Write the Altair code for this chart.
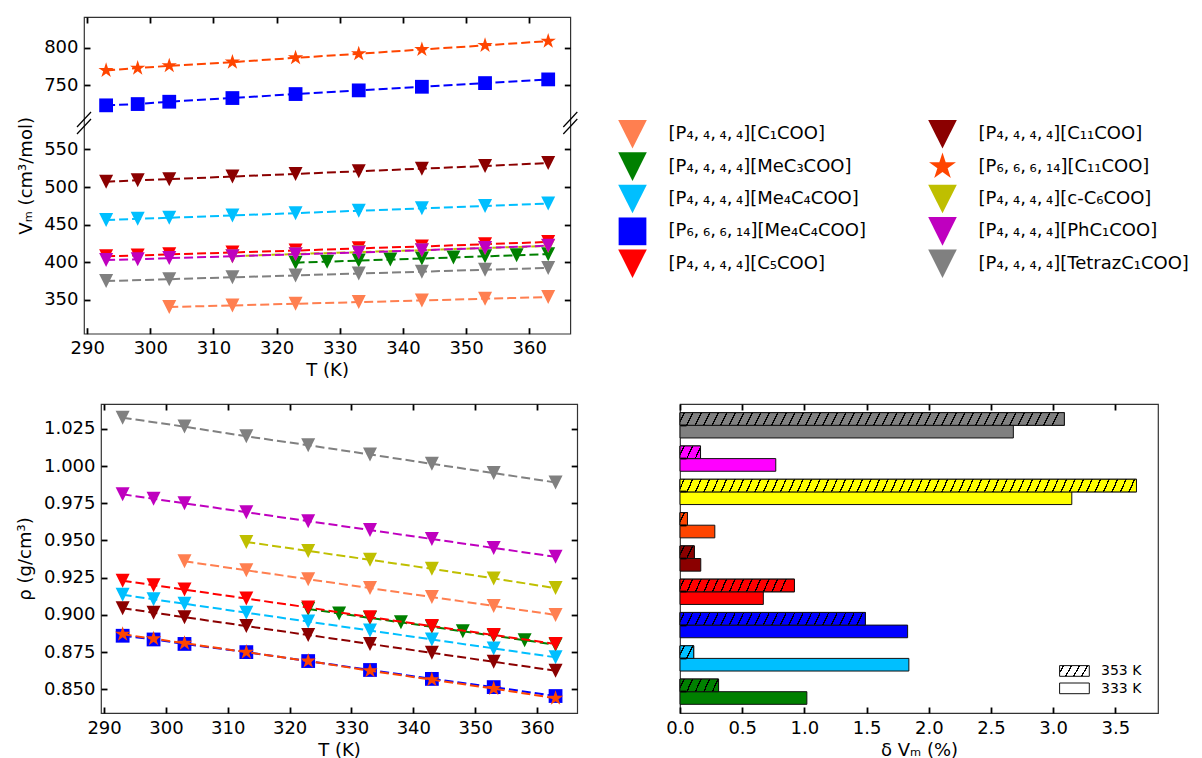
import math
import altair as alt
import pandas as pd

FONT = "DejaVu Sans"

# ---------------- data ----------------
T_FULL = [293, 298, 303, 313, 323, 333, 343, 353, 363]
T_C1 = [303, 313, 323, 333, 343, 353, 363]
T_MEC3 = [323, 328, 333, 338, 343, 348, 353, 358, 363]
T_CC6 = [313, 323, 333, 343, 353, 363]
T_TETRAZ = [293, 303, 313, 323, 333, 343, 353, 363]

KEYS = ["C1", "MeC3", "Me4C4", "P6Me4C4", "C5", "C11", "P6C11", "cC6", "PhC1", "Tetraz"]
P4 = "P₄,\u2009₄,\u2009₄,\u2009₄"
P6 = "P₆,\u2009₆,\u2009₆,\u2009₁₄"
NAMES = [
    f"[{P4}][C₁COO]",
    f"[{P4}][MeC₃COO]",
    f"[{P4}][Me₄C₄COO]",
    f"[{P6}][Me₄C₄COO]",
    f"[{P4}][C₅COO]",
    f"[{P4}][C₁₁COO]",
    f"[{P6}][C₁₁COO]",
    f"[{P4}][c-C₆COO]",
    f"[{P4}][PhC₁COO]",
    f"[{P4}][TetrazC₁COO]",
]
COLORS = ["#FF7F50", "#008000", "#00BFFF", "#0000FF", "#FF0000",
          "#8B0000", "#FF4500", "#BFBF00", "#BF00BF", "#808080"]
MARKERS = ["tri", "tri", "tri", "square", "tri", "tri", "star", "tri", "tri", "tri"]
TEMPS = [T_C1, T_MEC3, T_FULL, T_FULL, T_FULL, T_FULL, T_FULL, T_CC6, T_FULL, T_TETRAZ]

# molar volume (cm3/mol)
VM = [
    [340.5, 342.6, 344.8, 347.0, 349.2, 351.5, 353.8],
    [399.5, 400.8, 402.2, 403.6, 405.0, 406.4, 407.9, 409.3, 410.8],
    [456.2, 457.7, 459.2, 462.2, 465.3, 468.5, 471.7, 474.9, 478.1],
    [723.5, 725.2, 728.3, 733.2, 738.5, 743.4, 748.2, 753.1, 758.0],
    [408.0, 409.0, 410.5, 413.0, 415.5, 418.5, 421.0, 424.0, 427.0],
    [507.0, 509.0, 510.5, 514.0, 517.5, 521.0, 524.5, 528.0, 532.0],
    [770.0, 773.0, 776.1, 781.0, 786.7, 792.0, 797.8, 803.2, 808.9],
    [408.0, 411.0, 413.5, 416.0, 419.0, 421.5],
    [403.0, 404.0, 405.5, 408.0, 410.5, 413.0, 416.0, 419.0, 422.0],
    [375.0, 377.5, 380.0, 382.5, 385.0, 387.5, 390.0, 392.5],
]
# density (g/cm3)
RHO = [
    [0.936, 0.930, 0.924, 0.918, 0.912, 0.906, 0.900],
    [0.904, 0.901, 0.898, 0.895, 0.892, 0.889, 0.886, 0.883, 0.880],
    [0.9135, 0.9105, 0.9075, 0.9015, 0.8955, 0.8895, 0.8835, 0.8775, 0.8715],
    [0.886, 0.8835, 0.8805, 0.875, 0.869, 0.863, 0.857, 0.8515, 0.8455],
    [0.923, 0.920, 0.917, 0.911, 0.905, 0.8985, 0.8925, 0.8865, 0.8805],
    [0.9045, 0.9015, 0.8985, 0.8925, 0.8865, 0.8805, 0.8745, 0.8685, 0.8625],
    [0.887, 0.884, 0.881, 0.875, 0.869, 0.8625, 0.8565, 0.8505, 0.844],
    [0.949, 0.943, 0.937, 0.931, 0.9245, 0.918],
    [0.981, 0.978, 0.975, 0.969, 0.963, 0.957, 0.951, 0.945, 0.939],
    [1.0325, 1.0265, 1.020, 1.014, 1.0078, 1.0015, 0.9953, 0.989],
]

# deviation bars, listed bottom -> top
BAR_KEYS = ["MeC3", "Me4C4", "P6Me4C4", "C5", "C11", "P6C11", "cC6", "PhC1", "Tetraz"]
BAR_COLORS = ["#008000", "#00BFFF", "#0000FF", "#FF0000", "#8B0000",
              "#FF4500", "#FFFF00", "#FF00FF", "#808080"]
DV_353 = [0.31, 0.11, 1.49, 0.92, 0.115, 0.06, 3.67, 0.165, 3.09]
DV_333 = [1.02, 1.84, 1.83, 0.67, 0.167, 0.28, 3.15, 0.77, 2.68]
TEMP_LABELS = ["353 K", "333 K"]

X_TICKS = [290, 300, 310, 320, 330, 340, 350, 360]
VM_TICKS = [350, 400, 450, 500, 550, 750, 800]
RHO_TICKS = [0.850, 0.875, 0.900, 0.925, 0.950, 0.975, 1.000, 1.025]
DV_TICKS = [0.0, 0.5, 1.0, 1.5, 2.0, 2.5, 3.0, 3.5]

# ---------------- styles ----------------
TS = 6
TRI = "M-1,-1L1,-1L0,1Z"


def star_path():
    pts = []
    for i in range(10):
        r = 1.0 if i % 2 == 0 else 0.382
        a = math.radians(-90 + 36 * i)
        pts.append((r * math.cos(a), r * math.sin(a)))
    return "M" + "L".join(f"{x:.3f},{y:.3f}" for x, y in pts) + "Z"


STAR = star_path()
SHAPE = {"tri": TRI, "square": "square", "star": STAR}
PT_SIZE = {"tri": 196, "square": 190, "star": 260}
LEG_SIZE = {"tri": 820, "square": 770, "star": 800}


def ax(orient, values=None, labels=True, fmt=None, title=None, title_pad=6):
    d = dict(orient=orient, labels=labels, ticks=True, tickSize=TS, offset=-TS,
             domain=False, grid=False, tickColor="black", tickWidth=1.8,
             labelFont=FONT, labelFontSize=18, labelColor="black", labelPadding=6,
             labelFlush=False, labelOverlap=False, zindex=1,
             titleFont=FONT, titleFontSize=18, titleFontWeight="normal",
             titleColor="black", titlePadding=title_pad)
    if values is not None:
        d["values"] = values
    if fmt is not None:
        d["format"] = fmt
    d["title"] = title
    return alt.Axis(**d)


def series_df(i, vals, col):
    return pd.DataFrame({"T": TEMPS[i], col: vals[i]})


def scatter_layers(vals, col, ysc, yticks, yfmt, ytitle, ytitle_pad):
    xsc = alt.Scale(domain=[289.5, 366.5], nice=False, zero=False)
    layers = []
    for i in range(len(KEYS)):
        d = series_df(i, vals, col)
        enc = dict(x=alt.X("T:Q", scale=xsc, axis=None),
                   y=alt.Y(f"{col}:Q", scale=ysc, axis=None))
        layers.append(alt.Chart(d).mark_line(color=COLORS[i], strokeDash=[9, 4],
                                             strokeWidth=2).encode(**enc))
        layers.append(alt.Chart(d).mark_point(shape=SHAPE[MARKERS[i]], filled=True,
                                              opacity=1, color=COLORS[i],
                                              size=PT_SIZE[MARKERS[i]]).encode(**enc))
    alldf = pd.concat([series_df(i, vals, col) for i in range(len(KEYS))])
    a1 = alt.Chart(alldf).mark_point(opacity=0).encode(
        x=alt.X("T:Q", scale=xsc, axis=ax("bottom", X_TICKS, title="T (K)", title_pad=4)),
        y=alt.Y(f"{col}:Q", scale=ysc,
                axis=ax("left", yticks, fmt=yfmt, title=ytitle, title_pad=ytitle_pad)))
    a2 = alt.Chart(alldf).mark_point(opacity=0).encode(
        x=alt.X("T:Q", scale=xsc, axis=ax("top", X_TICKS, labels=False)),
        y=alt.Y(f"{col}:Q", scale=ysc, axis=ax("right", yticks, labels=False)))
    return layers + [a1, a2]


one = pd.DataFrame({"a": [0]})

# ---------------- top-left: molar volume (broken axis) ----------------
TL_W, TL_H = 486.3, 316.7
vm_scale = alt.Scale(domain=[305, 580, 704, 841], range=[TL_H, 109.9, 103, 0],
                     nice=False, zero=False)
tl_layers = scatter_layers(VM, "V", vm_scale, VM_TICKS, "d", "Vₘ (cm³/mol)", 8.5)
breaks = []
for sx in [0, TL_W]:
    for (ya, yb) in [(110, 95), (117, 102)]:
        breaks.append(alt.Chart(one).mark_rule(color="black", strokeWidth=1.2).encode(
            x=alt.value(sx - 7), x2=alt.value(sx + 7),
            y=alt.value(ya), y2=alt.value(yb)))
tl = alt.layer(*tl_layers, *breaks).resolve_axis(x="independent", y="independent") \
    .properties(width=TL_W, height=TL_H)

# ---------------- legend ----------------
leg_df = pd.DataFrame({
    "name": NAMES,
    "col": [i // 5 for i in range(10)],
    "row": [i % 5 for i in range(10)],
    "color": COLORS,
    "shape": [SHAPE[m] for m in MARKERS],
    "size": [LEG_SIZE[m] for m in MARKERS],
})
lx = alt.X("col:Q", scale=alt.Scale(domain=[0, 1], range=[53.5, 363.5]), axis=None)
ly = alt.Y("row:Q", scale=alt.Scale(domain=[0, 4], range=[117.3, 246.7]), axis=None)
leg_pts = alt.Chart(leg_df).mark_point(filled=True, opacity=1).encode(
    x=lx, y=ly,
    color=alt.Color("color:N", scale=None),
    shape=alt.Shape("shape:N", scale=None),
    size=alt.Size("size:Q", scale=None))
leg_txt = alt.Chart(leg_df).mark_text(align="left", baseline="middle", dx=36,
                                      fontSize=18, font=FONT, color="black").encode(
    x=lx, y=ly, text="name:N")
leg = alt.layer(leg_pts, leg_txt).properties(
    width=610, height=TL_H, view=alt.ViewBackground(strokeOpacity=0))

# ---------------- bottom-left: density ----------------
BL_W, BL_H = 476.2, 309.0
rho_scale = alt.Scale(domain=[0.8341, 1.0417], nice=False, zero=False)
bl_layers = scatter_layers(RHO, "rho", rho_scale, RHO_TICKS, ".3f", "ρ (g/cm³)", 8.5)
bl = alt.layer(*bl_layers).resolve_axis(x="independent", y="independent") \
    .properties(width=BL_W, height=BL_H)

# ---------------- bottom-right: deviations ----------------
BR_W, BR_H = 478.0, 309.0
ORDER_TOP = BAR_KEYS[::-1]
bar_rows = []
for k, c, v3, v2 in zip(BAR_KEYS, BAR_COLORS, DV_353, DV_333):
    bar_rows.append({"grp": k, "temp": TEMP_LABELS[0], "dv": v3, "color": c})
    bar_rows.append({"grp": k, "temp": TEMP_LABELS[1], "dv": v2, "color": c})
bar_df = pd.DataFrame(bar_rows)

bx = alt.Scale(domain=[0, 3.843], nice=False)
band = alt.Scale(domain=ORDER_TOP, paddingInner=0.24, paddingOuter=0.26)
yoff = alt.YOffset("temp:N", scale=alt.Scale(domain=TEMP_LABELS, paddingInner=0,
                                             paddingOuter=0))
PX_PER_UNIT = BR_W / 3.843
BAR_H = BR_H / (9 - 0.24 + 2 * 0.26) * 0.76 / 2


def hatch_fill(color, w_px, h_px, period=8.5, run=6.0, lw=1.3, line="#000000"):
    w_px = max(w_px, 1.0)
    k = run / w_px
    norm = 1 + k * k
    per_t = period / w_px / norm
    lw_t = lw * math.hypot(1, run / h_px) / w_px / norm
    stops = [{"offset": 0, "color": color}]
    i = 0
    while True:
        c = (i + 0.5) * per_t
        a, b = c - lw_t / 2, c + lw_t / 2
        if b >= 1:
            break
        a = max(a, 0.0)
        stops += [{"offset": a, "color": color}, {"offset": a, "color": line},
                  {"offset": b, "color": line}, {"offset": b, "color": color}]
        i += 1
    stops.append({"offset": 1, "color": color})
    return {"gradient": "linear", "x1": 0, "y1": 0, "x2": 1, "y2": k, "stops": stops}


benc = dict(x=alt.X("dv:Q", scale=bx, axis=None),
            y=alt.Y("grp:N", scale=band, axis=None),
            yOffset=yoff)
base_bars = alt.Chart(bar_df).mark_bar(stroke="#111", strokeWidth=1).encode(
    fill=alt.Fill("color:N", scale=None), **benc)
hatch_layers = []
for k, c, v3 in zip(BAR_KEYS, BAR_COLORS, DV_353):
    d = bar_df[(bar_df.grp == k) & (bar_df.temp == TEMP_LABELS[0])]
    hatch_layers.append(alt.Chart(d).mark_bar(
        fill=hatch_fill(c, v3 * PX_PER_UNIT, BAR_H), stroke="#111", strokeWidth=1
    ).encode(**benc))
br_a1 = alt.Chart(bar_df).mark_point(opacity=0).encode(
    x=alt.X("dv:Q", scale=bx, axis=ax("bottom", DV_TICKS, fmt=".1f",
                                      title="δ Vₘ (%)", title_pad=4)),
    y=alt.Y("grp:N", scale=band, axis=ax("left", labels=False)))
br_a2 = alt.Chart(bar_df).mark_point(opacity=0).encode(
    x=alt.X("dv:Q", scale=bx, axis=ax("top", DV_TICKS, labels=False)),
    y=alt.Y("grp:N", scale=band, axis=None))
# small legend for the temperatures
sw = []
for j, (lab, yy) in enumerate(zip(TEMP_LABELS, [261.6, 279.0])):
    fill = hatch_fill("#FFFFFF", 29.7, 10.7, period=8.0) if j == 0 else "#FFFFFF"
    sw.append(alt.Chart(one).mark_rect(fill=fill, stroke="#111", strokeWidth=1).encode(
        x=alt.value(379.6), x2=alt.value(409.3), y=alt.value(yy), y2=alt.value(yy + 10.7)))
    sw.append(alt.Chart(one).mark_text(text=lab, align="left", baseline="middle",
                                       fontSize=14, font=FONT, color="black").encode(
        x=alt.value(421), y=alt.value(yy + 5.6)))
br = alt.layer(base_bars, *hatch_layers, br_a1, br_a2, *sw) \
    .resolve_axis(x="independent", y="independent") \
    .properties(width=BR_W, height=BR_H)


# ---------------- assemble ----------------
def spacer():
    return alt.Chart(one).mark_point(opacity=0, size=1).encode(
        x=alt.value(0), y=alt.value(0)
    ).properties(width=1, height=1, view=alt.ViewBackground(strokeOpacity=0))


row1 = alt.hconcat(spacer(), alt.hconcat(tl, leg, spacing=0), spacing=0)
row2 = alt.hconcat(spacer(), alt.hconcat(bl, br, spacing=86), spacing=0)
chart = alt.vconcat(row1, row2, spacing=21).properties(
    padding={"left": 6, "top": 7, "right": 0, "bottom": 0}
).configure(font=FONT).configure_view(stroke="#333333", strokeWidth=1.2)

chart.save("out.html", embed_options={"renderer": "svg", "actions": False})
